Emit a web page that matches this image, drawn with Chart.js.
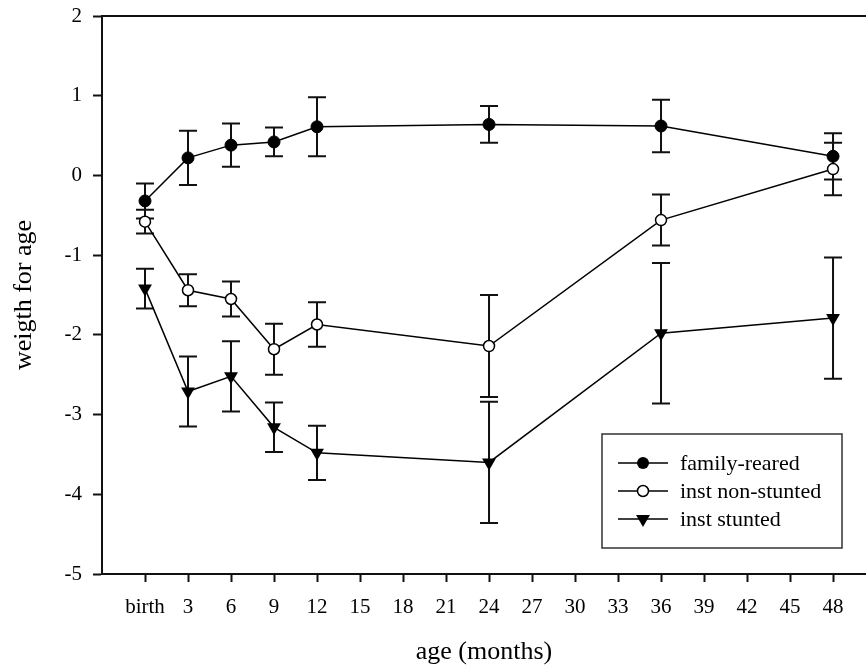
<!DOCTYPE html>
<html><head><meta charset="utf-8">
<script src="https://cdn.jsdelivr.net/npm/chart.js@4.4.1/dist/chart.umd.min.js"></script>
<style>html,body{margin:0;padding:0;background:#fff;overflow:hidden}#wrap{width:866px;height:668px}</style>
</head><body><div id="wrap"><canvas id="c" width="866" height="668"></canvas></div>
<script>
// ---- data ----
const months = [0, 3, 6, 9, 12, 24, 36, 48];
const xTickValues = [0, 3, 6, 9, 12, 15, 18, 21, 24, 27, 30, 33, 36, 39, 42, 45, 48];
const xTickLabels = ['birth', '3', '6', '9', '12', '15', '18', '21', '24', '27', '30', '33', '36', '39', '42', '45', '48'];
const seriesNames = ['family-reared', 'inst non-stunted', 'inst stunted'];
const familyReared = [-0.32, 0.22, 0.38, 0.42, 0.61, 0.64, 0.62, 0.24];
const familyRearedErr = [0.22, 0.34, 0.27, 0.18, 0.37, 0.23, 0.33, 0.29];
const instNonStunted = [-0.58, -1.44, -1.55, -2.18, -1.87, -2.14, -0.56, 0.08];
const instNonStuntedErr = [0.15, 0.20, 0.22, 0.32, 0.28, 0.64, 0.32, 0.33];
const instStunted = [-1.42, -2.71, -2.52, -3.16, -3.48, -3.60, -1.98, -1.79];
const instStuntedErr = [0.25, 0.44, 0.44, 0.31, 0.34, 0.76, 0.88, 0.76];

const FONT = "'Liberation Serif', 'Times New Roman', serif";
Chart.defaults.font.family = FONT;
Chart.defaults.color = '#000';

const toPts = (ys) => months.map((m, i) => ({x: m, y: ys[i]}));
const errs = [familyRearedErr, instNonStuntedErr, instStuntedErr];

const errorBarPlugin = {
  id: 'errorBars',
  beforeDatasetsDraw(chart) {
    const ctx = chart.ctx, ys = chart.scales.y;
    ctx.save();
    ctx.strokeStyle = '#111';
    ctx.lineWidth = 2;
    chart.data.datasets.forEach((ds, di) => {
      const meta = chart.getDatasetMeta(di);
      meta.data.forEach((pt, j) => {
        const v = ds.data[j].y, e = errs[di][j];
        const x = pt.x, y1 = ys.getPixelForValue(v + e), y2 = ys.getPixelForValue(v - e);
        ctx.beginPath();
        ctx.moveTo(x, y1); ctx.lineTo(x, y2);
        ctx.moveTo(x - 9, y1); ctx.lineTo(x + 9, y1);
        ctx.moveTo(x - 9, y2); ctx.lineTo(x + 9, y2);
        ctx.stroke();
      });
    });
    ctx.restore();
  }
};

function drawMarker(ctx, style, x, y) {
  ctx.beginPath();
  if (style === 'filled') {
    ctx.arc(x, y, 6, 0, Math.PI * 2);
    ctx.fillStyle = '#000'; ctx.fill();
  } else if (style === 'open') {
    ctx.arc(x, y, 5.5, 0, Math.PI * 2);
    ctx.fillStyle = '#fff'; ctx.fill();
    ctx.lineWidth = 1.5; ctx.strokeStyle = '#000'; ctx.stroke();
  } else {
    const r = 8;
    ctx.moveTo(x, y + r);
    ctx.lineTo(x - r * Math.sin(Math.PI / 3), y - r / 2);
    ctx.lineTo(x + r * Math.sin(Math.PI / 3), y - r / 2);
    ctx.closePath();
    ctx.fillStyle = '#000'; ctx.fill();
  }
}

const framePlugin = {
  id: 'frame',
  afterDraw(chart) {
    const ctx = chart.ctx, a = chart.chartArea;
    ctx.save();
    ctx.strokeStyle = '#111'; ctx.lineWidth = 2;
    ctx.beginPath(); ctx.moveTo(a.left - 1, a.top); ctx.lineTo(a.right, a.top); ctx.stroke();
    // legend box
    const bx = a.right - 264, by = a.bottom - 140, bw = 240, bh = 114;
    ctx.fillStyle = '#fff'; ctx.fillRect(bx, by, bw, bh);
    ctx.lineWidth = 1.5; ctx.strokeStyle = '#333';
    ctx.strokeRect(bx, by, bw, bh);
    const styles = ['filled', 'open', 'tri'];
    ctx.font = "22px " + FONT;
    ctx.textBaseline = 'middle'; ctx.textAlign = 'left';
    seriesNames.forEach((name, i) => {
      const y = by + 29 + i * 28;
      ctx.strokeStyle = '#000'; ctx.lineWidth = 1.5;
      ctx.beginPath(); ctx.moveTo(bx + 16, y); ctx.lineTo(bx + 66, y); ctx.stroke();
      drawMarker(ctx, styles[i], bx + 41, y);
      ctx.fillStyle = '#000';
      ctx.fillText(name, bx + 78, y + 1);
    });
    ctx.restore();
  }
};

new Chart(document.getElementById('c'), {
  type: 'line',
  data: {
    datasets: [
      {label: seriesNames[0], data: toPts(familyReared), borderColor: '#000', borderWidth: 1.5,
       pointStyle: 'circle', pointRadius: 6, pointBackgroundColor: '#000', pointBorderColor: '#000', pointBorderWidth: 1},
      {label: seriesNames[1], data: toPts(instNonStunted), borderColor: '#000', borderWidth: 1.5,
       pointStyle: 'circle', pointRadius: 5.5, pointBackgroundColor: '#fff', pointBorderColor: '#000', pointBorderWidth: 1.5},
      {label: seriesNames[2], data: toPts(instStunted), borderColor: '#000', borderWidth: 1.5,
       pointStyle: 'triangle', pointRotation: 180, pointRadius: 8, pointBackgroundColor: '#000', pointBorderColor: '#000', pointBorderWidth: 0}
    ]
  },
  options: {
    responsive: false, animation: false, devicePixelRatio: 1,
    layout: {autoPadding: false, padding: {top: 16, right: 0, bottom: 0, left: 0}},
    plugins: {legend: {display: false}, tooltip: {enabled: false}},
    scales: {
      x: {
        type: 'linear', min: -3, max: 50.3,
        afterBuildTicks: (s) => { s.ticks = xTickValues.map(v => ({value: v})); },
        afterFit: (s) => { s.height = 94; s.paddingLeft = 0; s.paddingRight = 0; },
        ticks: {autoSkip: false, maxRotation: 0, padding: 13, font: {size: 21},
                callback: (v) => xTickLabels[xTickValues.indexOf(v)]},
        grid: {display: true, drawOnChartArea: false, drawTicks: true, tickLength: 8, tickWidth: 2, tickColor: '#111'},
        border: {display: true, color: '#111', width: 2},
        title: {display: true, text: 'age (months)', font: {size: 26}, padding: {top: 0, bottom: 0}}
      },
      y: {
        type: 'linear', min: -5, max: 2,
        afterFit: (s) => { s.width = 102; s.paddingTop = 0; s.paddingBottom = 0; },
        ticks: {stepSize: 1, padding: 11, font: {size: 21}},
        grid: {display: true, drawOnChartArea: false, drawTicks: true, tickLength: 9, tickWidth: 2, tickColor: '#111'},
        border: {display: true, color: '#111', width: 2},
        title: {display: true, text: 'weigth for age', font: {size: 26}, padding: {top: 9, bottom: 0}}
      }
    }
  },
  plugins: [errorBarPlugin, framePlugin]
});
</script></body></html>
